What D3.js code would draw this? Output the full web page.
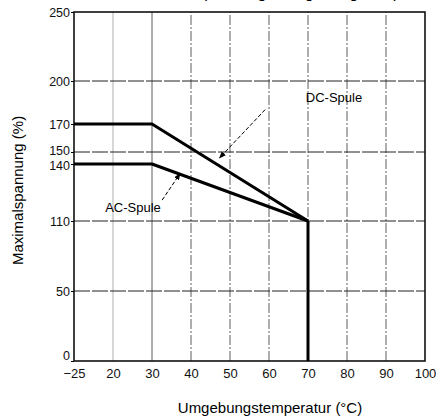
<!DOCTYPE html>
<html>
<head>
<meta charset="utf-8">
<script src="https://cdn.jsdelivr.net/npm/d3@7"></script>
<style>
  body { margin: 0; background: #fff; }
  svg { display: block; font-family: "Liberation Sans", Arial, sans-serif; }
</style>
</head>
<body>
<div class="chart"></div>
<script>
// tick values (the drawing is not to scale, so the scales are piecewise)
const xTicks = [-25, 20, 30, 40, 50, 60, 70, 80, 90, 100]
const yTicks = [0, 50, 110, 140, 150, 170, 200, 250]
const yGrid = [50, 110, 150, 200]
const xGrid = [20, 30, 40, 50, 60, 70, 80, 90]

// derating curves: temperature (°C) -> max voltage (%)
const dcTemp = [-25, 30, 70]
const dcVolt = [170, 170, 110]
const acTemp = [-25, 30, 70]
const acVolt = [140, 140, 110]
const cutTemp = [70, 70]
const cutVolt = [110, 0]

const width = 436
const height = 418

const svg = d3.select('.chart')
  .append('svg')
  .attr('width', width)
  .attr('height', height)

const x = d3.scaleLinear()
  .domain([-25, 20, 100])
  .range([74, 113, 425])

const y = d3.scaleLinear()
  .domain([0, 50, 110, 140, 150, 170, 200, 250])
  .range([361, 291, 221, 164, 152, 124, 81, 12])

// title, cut off at the top edge of the scan
svg.append('text')
  .attr('x', 290)
  .attr('y', -2)
  .attr('text-anchor', 'middle')
  .style('font-size', '16px')
  .text('Maximalspannung / Umgebungstemperatur')

// grid
svg.append('g')
  .selectAll('line')
  .data(xGrid)
  .join('line')
  .attr('x1', d => x(d)).attr('x2', d => x(d))
  .attr('y1', y(0)).attr('y2', y(250))
  .attr('stroke', d => d === 20 ? '#999' : '#333')
  .attr('stroke-width', 0.8)
  .attr('stroke-dasharray', d => d === 30 || d === 20 ? null : '10,2,2,2')

svg.append('g')
  .selectAll('line')
  .data(yGrid)
  .join('line')
  .attr('x1', x(-25)).attr('x2', x(100))
  .attr('y1', d => y(d)).attr('y2', d => y(d))
  .attr('stroke', '#222')
  .attr('stroke-width', 1)
  .attr('stroke-dasharray', '16,2')

// frame
svg.append('rect')
  .attr('x', x(-25))
  .attr('y', y(250))
  .attr('width', x(100) - x(-25))
  .attr('height', y(0) - y(250))
  .attr('fill', 'none')
  .attr('stroke', '#111')
  .attr('stroke-width', 1.6)

// axes
const yAxis = d3.axisLeft(y)
  .tickValues(yTicks)
  .tickSize(3)
  .tickSizeOuter(0)
const gy = svg.append('g')
  .attr('transform', `translate(${x(-25)},0)`)
  .call(yAxis)
gy.select('.domain').remove()
gy.selectAll('text')
  .style('font-size', '12.5px')
  .attr('fill', '#111')
  .attr('x', -4)
  .attr('dy', d => d === 0 ? '-0.1em' : d === 150 ? '0.2em' : d === 140 ? '0.4em' : '0.32em')

const xAxis = d3.axisBottom(x)
  .tickValues(xTicks)
  .tickSize(0)
  .tickFormat(d => d < 0 ? '\u2212' + Math.abs(d) : d)
const gx = svg.append('g')
  .attr('transform', `translate(0,${y(0)})`)
  .call(xAxis)
gx.select('.domain').remove()
gx.selectAll('text').style('font-size', '13px').attr('fill', '#111').attr('dy', '1.05em')

// curves
const line = d3.line()
  .x(d => x(d[0]))
  .y(d => y(d[1]))

const curves = [
  d3.zip(dcTemp, dcVolt),
  d3.zip(acTemp, acVolt),
  d3.zip(cutTemp, cutVolt)
]
svg.append('g')
  .selectAll('path')
  .data(curves)
  .join('path')
  .attr('d', line)
  .attr('fill', 'none')
  .attr('stroke', '#000')
  .attr('stroke-width', 3)
  .attr('stroke-linejoin', 'round')

// annotations with arrows
svg.append('defs').append('marker')
  .attr('id', 'arrow')
  .attr('viewBox', '0 0 10 10')
  .attr('refX', 9).attr('refY', 5)
  .attr('markerWidth', 7).attr('markerHeight', 7)
  .attr('orient', 'auto')
  .append('path')
  .attr('d', 'M0,1 L10,5 L0,9 Z')
  .attr('fill', '#000')

const annos = [
  { label: 'DC-Spule', tx: 334, ty: 102, from: [59, 180], to: [47.3, 145] },
  { label: 'AC-Spule', tx: 133, ty: 212, from: [32.6, 121], to: [37.2, 135] }
]
svg.append('g')
  .selectAll('text')
  .data(annos)
  .join('text')
  .attr('x', d => d.tx)
  .attr('y', d => d.ty)
  .attr('text-anchor', 'middle')
  .style('font-size', '13px')
  .text(d => d.label)

svg.append('g')
  .selectAll('line')
  .data(annos)
  .join('line')
  .attr('x1', d => x(d.from[0])).attr('y1', d => y(d.from[1]))
  .attr('x2', d => x(d.to[0])).attr('y2', d => y(d.to[1]))
  .attr('stroke', '#000')
  .attr('stroke-width', 1)
  .attr('stroke-dasharray', '4,2')
  .attr('marker-end', 'url(#arrow)')

// axis titles
svg.append('text')
  .attr('transform', `translate(23,${(y(0) + y(250)) / 2 + 4}) rotate(-90)`)
  .attr('text-anchor', 'middle')
  .style('font-size', '15px')
  .text('Maximalspannung (%)')

svg.append('text')
  .attr('x', 270)
  .attr('y', 413)
  .attr('text-anchor', 'middle')
  .style('font-size', '15px')
  .text('Umgebungstemperatur (°C)')
</script>
</body>
</html>
